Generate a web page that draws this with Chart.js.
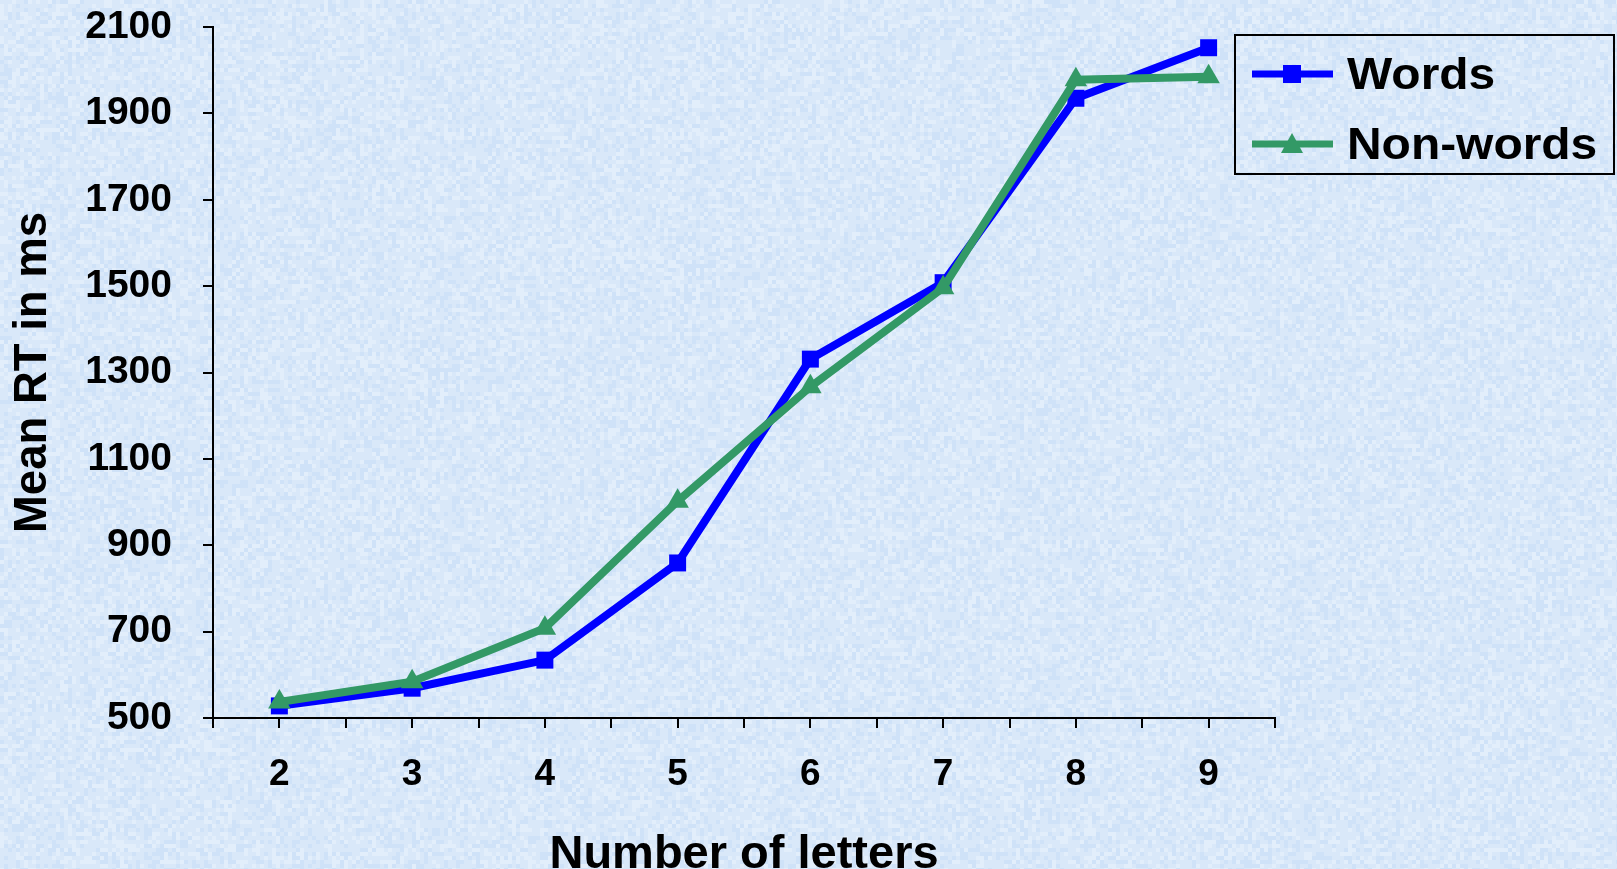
<!DOCTYPE html>
<html>
<head>
<meta charset="utf-8">
<script src="https://cdn.jsdelivr.net/npm/chart.js@4.4.1/dist/chart.umd.min.js"></script>
<style>
  html, body { margin: 0; padding: 0; overflow: hidden; background: #d9e8f9; }
  #wrap { position: relative; width: 1617px; height: 869px; }
  #legend {
    position: absolute; left: 1234px; top: 34px; width: 377px; height: 137px;
    border: 2px solid #000; font-family: "Liberation Sans", Arial, sans-serif;
    font-weight: bold; font-size: 45px; color: #000;
  }
  .item { position: absolute; left: 0; height: 50px; display: flex; align-items: center; }
  .item svg { margin-left: 16px; margin-right: 14px; }
  .item span { display: inline-block; transform: scaleX(1.065); transform-origin: left center; }
</style>
</head>
<body>
<div id="wrap">
  <canvas id="myChart" width="1617" height="869"></canvas>
  <div id="legend"></div>
</div>
<script>
const letters = [2, 3, 4, 5, 6, 7, 8, 9];
const words = [528, 569, 634, 859, 1331, 1508, 1935, 2052];
const nonWords = [537, 584, 708, 1002, 1267, 1496, 1978, 1985];
const yTicks = [500, 700, 900, 1100, 1300, 1500, 1700, 1900, 2100];

const FONT = '"Liberation Sans", Arial, sans-serif';

// soft blue paper texture behind everything
function makeTexture(w, h) {
  const c = document.createElement('canvas');
  c.width = w; c.height = h;
  const g = c.getContext('2d');
  g.fillStyle = '#d9e8f9';
  g.fillRect(0, 0, w, h);
  let s = 12345;
  function next() { s = (s * 1103515245 + 12345) & 0x7fffffff; return s / 0x7fffffff; }
  for (let y = 0; y < h; y += 4) {
    for (let x = 0; x < w; x += 4) {
      const v = next();
      if (v < 0.25) g.fillStyle = 'rgba(196,219,246,0.45)';
      else if (v > 0.75) g.fillStyle = 'rgba(236,243,253,0.5)';
      else continue;
      g.fillRect(x, y, 4, 4);
    }
  }
  return c;
}
const texture = makeTexture(1617, 869);

const bgPlugin = {
  id: 'bg',
  beforeDraw(chart) {
    chart.ctx.drawImage(texture, 0, 0);
  }
};

const ctx = document.getElementById('myChart').getContext('2d');

const data = {
  datasets: [{
    label: 'Words',
    data: letters.map((l, i) => ({ x: l, y: words[i] })),
    borderColor: '#0000ff',
    backgroundColor: '#0000ff',
    borderWidth: 8,
    pointStyle: 'rect',
    pointRadius: 12,
    pointBorderWidth: 0,
    tension: 0,
    order: 1
  }, {
    label: 'Non-words',
    data: letters.map((l, i) => ({ x: l, y: nonWords[i] })),
    borderColor: '#339966',
    backgroundColor: '#339966',
    borderWidth: 8,
    pointStyle: 'triangle',
    pointRadius: 13,
    pointBorderWidth: 0,
    tension: 0,
    order: 0
  }]
};

const config = {
  type: 'line',
  data: data,
  plugins: [bgPlugin],
  options: {
    responsive: false,
    animation: false,
    layout: { padding: { top: 27, right: 342, bottom: 0, left: 0 } },
    plugins: {
      legend: { display: false },
      tooltip: { enabled: false }
    },
    scales: {
      x: {
        type: 'linear',
        min: 1.5,
        max: 9.5,
        afterBuildTicks(scale) {
          const t = [];
          for (let v = 1.5; v <= 9.5; v += 0.5) t.push({ value: v });
          scale.ticks = t;
        },
        afterFit(scale) {
          scale.height = 151;
          scale.paddingLeft = 0;
          scale.paddingRight = 0;
        },
        ticks: {
          autoSkip: false,
          maxRotation: 0,
          padding: 25,
          color: '#000',
          font: { family: FONT, size: 37, weight: 'bold' },
          callback: (v) => letters.includes(v) ? String(v) : ''
        },
        grid: { drawOnChartArea: false, tickLength: 10, color: '#000', lineWidth: 2 },
        border: { color: '#000', width: 2 },
        title: {
          display: true,
          text: 'Number of letters',
          color: '#000',
          font: { family: FONT, size: 47, weight: 'bold' },
          padding: { top: 0, bottom: -14 }
        }
      },
      y: {
        min: 500,
        max: 2100,
        afterBuildTicks(scale) { scale.ticks = yTicks.map(v => ({ value: v })); },
        afterFit(scale) {
          scale.width = 213;
          scale.paddingTop = 0;
          scale.paddingBottom = 0;
        },
        ticks: {
          padding: 31,
          color: '#000',
          font: { family: FONT, size: 39, weight: 'bold' },
          callback: (v) => String(v)
        },
        grid: { drawOnChartArea: false, tickLength: 10, color: '#000', lineWidth: 2 },
        border: { color: '#000', width: 2 },
        title: {
          display: true,
          text: 'Mean RT in ms',
          color: '#000',
          font: { family: FONT, size: 45.5, weight: 'bold' },
          padding: { top: 6, bottom: 0 }
        }
      }
    }
  }
};

const chart = new Chart(ctx, config);

// html legend built from the datasets
const legend = document.getElementById('legend');
const tops = [13, 83];
chart.data.datasets.forEach((ds, i) => {
  const item = document.createElement('div');
  item.className = 'item';
  item.style.top = tops[i] + 'px';
  const marker = ds.pointStyle === 'rect'
    ? '<rect x="31" y="16" width="18" height="18" fill="' + ds.borderColor + '"/>'
    : '<polygon points="40,14 51,34 29,34" fill="' + ds.borderColor + '"/>';
  item.innerHTML = '<svg width="81" height="50"><rect x="0" y="21.5" width="81" height="7" fill="' +
    ds.borderColor + '"/>' + marker + '</svg><span>' + ds.label + '</span>';
  legend.appendChild(item);
});
</script>
</body>
</html>
